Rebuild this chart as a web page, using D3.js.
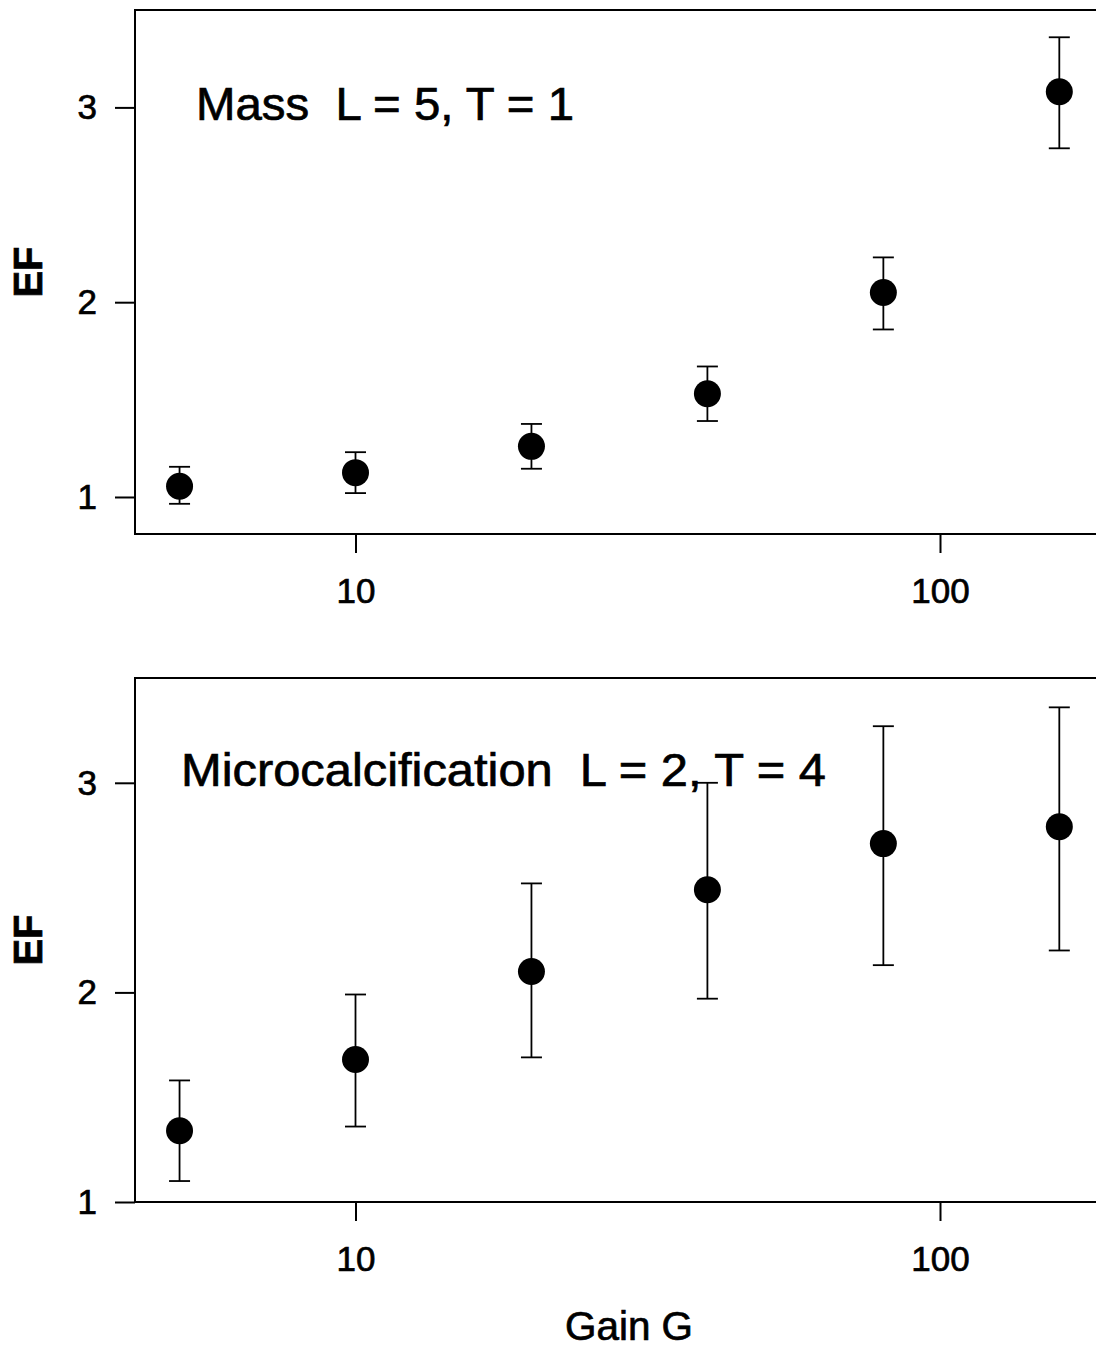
<!DOCTYPE html>
<html>
<head>
<meta charset="utf-8">
<script src="https://cdn.jsdelivr.net/npm/d3@7"></script>
<style>
  html, body { margin: 0; padding: 0; background: #fff; }
  text { font-family: "Liberation Sans", Arial, sans-serif; fill: #000; stroke: #000; stroke-width: 0.7px; }
</style>
</head>
<body>
<div id="chart"></div>
<script>
// Gain values on the x axis
const gains = [5, 10, 20, 40, 80, 160];

// Mass, L = 5, T = 1
const massEF = [1.055, 1.125, 1.26, 1.53, 2.05, 3.08];
const massLo = [0.965, 1.02, 1.145, 1.39, 1.86, 2.79];
const massHi = [1.155, 1.23, 1.375, 1.67, 2.23, 3.36];

// Microcalcification, L = 2, T = 4
const microEF = [1.34, 1.68, 2.10, 2.49, 2.71, 2.79];
const microLo = [1.10, 1.36, 1.69, 1.97, 2.13, 2.20];
const microHi = [1.58, 1.99, 2.52, 3.00, 3.27, 3.36];

// Tick labels
const xTicks = [10, 100];
const yTicks = [1, 2, 3];

const width = 1096;
const height = 1349;
const left = 135;
const right = 1110; // frame runs off the right edge

const svg = d3.select("#chart")
  .append("svg")
  .attr("width", width)
  .attr("height", height);

// log x scale shared by both panels
const x = d3.scaleLog()
  .domain([10, 100])
  .range([355.5, 940]);

function drawPanel(cfg) {
  const y = d3.scaleLinear()
    .domain(cfg.yDomain)
    .range([cfg.bottom, cfg.top]);

  const g = svg.append("g");

  const rows = gains.map((G, i) => ({ G, ef: cfg.ef[i], lo: cfg.lo[i], hi: cfg.hi[i] }));

  // frame
  g.append("path")
    .attr("d", `M${right},${cfg.top}H${left}V${cfg.bottom}H${right}`)
    .attr("fill", "none")
    .attr("stroke", "#000")
    .attr("stroke-width", 2);

  // y axis
  const ya = g.append("g")
    .attr("transform", `translate(${left},0)`)
    .call(d3.axisLeft(y).tickValues(yTicks).tickSize(20).tickPadding(18).tickFormat(d3.format("d")));
  ya.select(".domain").remove();
  ya.selectAll("line").attr("stroke-width", 2);
  ya.selectAll("text").style("font-size", "35px");

  // x axis
  const xa = g.append("g")
    .attr("transform", `translate(0,${cfg.bottom})`)
    .call(d3.axisBottom(x).tickValues(xTicks).tickSize(19).tickPadding(25).tickFormat(d3.format("d")));
  xa.select(".domain").remove();
  xa.selectAll("line").attr("stroke-width", 2);
  xa.selectAll("text").style("font-size", "35px");

  // error bars
  const cap = 10.5;
  const bars = g.append("g")
    .attr("stroke", "#000")
    .attr("stroke-width", 1.8)
    .selectAll("g")
    .data(rows)
    .join("g");
  bars.append("line")
    .attr("x1", d => x(d.G)).attr("x2", d => x(d.G))
    .attr("y1", d => y(d.lo)).attr("y2", d => y(d.hi));
  bars.append("line")
    .attr("x1", d => x(d.G) - cap).attr("x2", d => x(d.G) + cap)
    .attr("y1", d => y(d.hi)).attr("y2", d => y(d.hi));
  bars.append("line")
    .attr("x1", d => x(d.G) - cap).attr("x2", d => x(d.G) + cap)
    .attr("y1", d => y(d.lo)).attr("y2", d => y(d.lo));

  // points
  g.append("g")
    .selectAll("circle")
    .data(rows)
    .join("circle")
    .attr("cx", d => x(d.G))
    .attr("cy", d => y(d.ef))
    .attr("r", 13.5)
    .attr("fill", "#000");

  // panel label
  g.append("text")
    .attr("x", cfg.labelX)
    .attr("y", cfg.labelY)
    .attr("textLength", cfg.labelLen)
    .attr("lengthAdjust", "spacingAndGlyphs")
    .style("font-size", "46px")
    .style("white-space", "pre")
    .text(cfg.label);

  // EF axis title
  g.append("text")
    .attr("transform", `translate(42,${(cfg.top + cfg.bottom) / 2}) rotate(-90)`)
    .attr("text-anchor", "middle")
    .style("font-size", "40px")
    .style("font-weight", "bold")
    .text("EF");
}

drawPanel({
  top: 10, bottom: 534, yDomain: [0.81, 3.5],
  ef: massEF, lo: massLo, hi: massHi,
  label: "Mass  L = 5, T = 1", labelX: 196, labelY: 120, labelLen: 378
});

drawPanel({
  top: 678, bottom: 1202, yDomain: [1.0, 3.5],
  ef: microEF, lo: microLo, hi: microHi,
  label: "Microcalcification  L = 2, T = 4", labelX: 181, labelY: 786, labelLen: 645
});

// x axis title
svg.append("text")
  .attr("x", 629)
  .attr("y", 1340)
  .attr("text-anchor", "middle")
  .attr("textLength", 128)
  .attr("lengthAdjust", "spacingAndGlyphs")
  .style("font-size", "40px")
  .text("Gain G");
</script>
</body>
</html>
